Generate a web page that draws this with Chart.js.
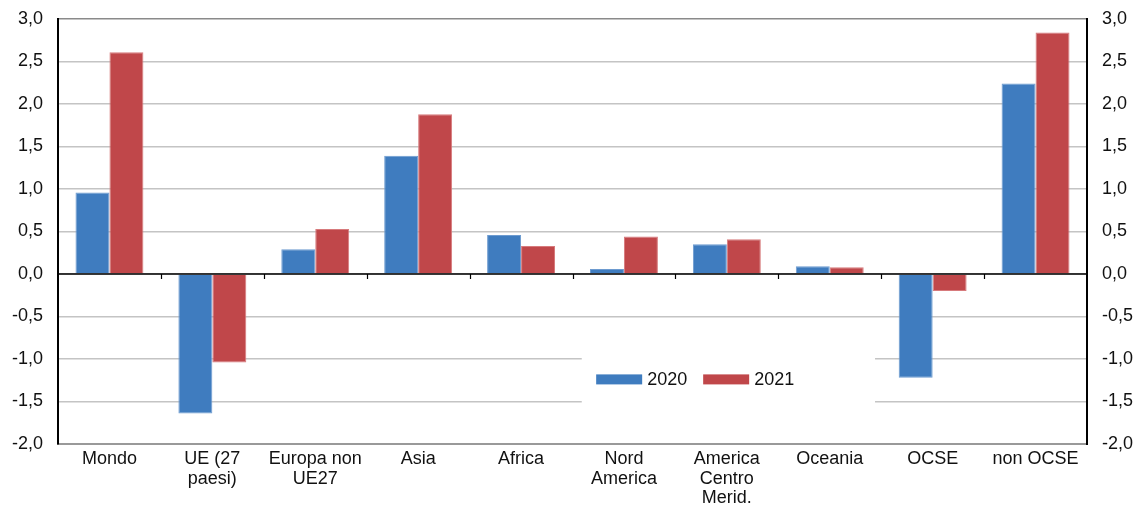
<!DOCTYPE html>
<html><head><meta charset="utf-8">
<script src="https://cdn.jsdelivr.net/npm/chart.js@4"></script>
<style>html,body{margin:0;padding:0;background:#fff;}#wrap{width:1142px;height:506px;position:relative;}</style>
</head><body><div id="wrap"><canvas id="c" width="1142" height="506"></canvas></div>
<script>
const categories = ['Mondo', ['UE (27','paesi)'], ['Europa non','UE27'], 'Asia', 'Africa', ['Nord','America'], ['America','Centro','Merid.'], 'Oceania', 'OCSE', 'non OCSE'];
const series2020 = [0.96, -1.64, 0.29, 1.39, 0.46, 0.06, 0.35, 0.09, -1.22, 2.24];
const series2021 = [2.61, -1.04, 0.53, 1.88, 0.33, 0.44, 0.41, 0.08, -0.20, 2.84];
const seriesNames = ['2020', '2021'];
const yMin = -2.0, yMax = 3.0, yStep = 0.5;

const BLUE = '#3f7cbf', RED = '#c0474a';
const FONT = 'Liberation Sans, Arial, sans-serif';
const fmt = v => v.toFixed(1).replace('.', ',');

const extras = {
  id: 'extras',
  beforeDatasetsDraw(chart) {
    const ctx = chart.ctx, a = chart.chartArea, y = chart.scales.y;
    const bx0 = a.left + (a.right - a.left) * 0.509, bx1 = a.left + (a.right - a.left) * 0.794;
    const by0 = y.getPixelForValue(-0.9), by1 = y.getPixelForValue(-1.58);
    ctx.save();
    ctx.fillStyle = '#fff';
    ctx.fillRect(bx0, by0, bx1 - bx0, by1 - by0);
    ctx.restore();
  },
  afterDatasetsDraw(chart) {
    const ctx = chart.ctx, a = chart.chartArea, y = chart.scales.y;
    const y0 = y.getPixelForValue(0);
    ctx.save();
    ctx.strokeStyle = '#000'; ctx.lineWidth = 1.5;
    ctx.beginPath(); ctx.moveTo(a.left, y0); ctx.lineTo(a.right, y0); ctx.stroke();
    const n = categories.length, w = (a.right - a.left) / n;
    ctx.lineWidth = 1.2;
    for (let i = 1; i < n; i++) {
      const xx = Math.round(a.left + i * w) + 0.5;
      ctx.beginPath(); ctx.moveTo(xx, y0); ctx.lineTo(xx, y0 + 5); ctx.stroke();
    }
    const ly = y.getPixelForValue(-1.24);
    const lx = a.left + (a.right - a.left) * 0.523;
    ctx.font = '18px ' + FONT; ctx.textBaseline = 'middle';
    const sw = 46, sh = 10;
    ctx.fillStyle = BLUE; ctx.fillRect(lx, ly - sh / 2, sw, sh);
    ctx.fillStyle = '#111'; ctx.fillText(seriesNames[0], lx + sw + 5, ly + 1);
    const lx2 = lx + 107;
    ctx.fillStyle = RED; ctx.fillRect(lx2, ly - sh / 2, sw, sh);
    ctx.fillStyle = '#111'; ctx.fillText(seriesNames[1], lx2 + sw + 5, ly + 1);
    ctx.restore();
  }
};

const noPad = s => { s.paddingTop = 0; s.paddingBottom = 0; };

new Chart(document.getElementById('c'), {
  type: 'bar',
  data: {
    labels: categories,
    datasets: [
      { label: seriesNames[0], data: series2020, backgroundColor: BLUE, borderColor: '#6d9bd0', borderWidth: 1, categoryPercentage: 0.66, barPercentage: 1.0, yAxisID: 'y' },
      { label: seriesNames[1], data: series2021, backgroundColor: RED, borderColor: '#d77a7c', borderWidth: 1, categoryPercentage: 0.66, barPercentage: 1.0, yAxisID: 'y' }
    ]
  },
  options: {
    responsive: false, animation: false, devicePixelRatio: 1,
    layout: { padding: { top: 19, bottom: 0, left: 0, right: 0 } },
    plugins: { legend: { display: false }, tooltip: { enabled: false } },
    scales: {
      x: {
        grid: { display: false, drawTicks: false },
        border: { display: true, color: '#999', width: 2 },
        ticks: { color: '#111', font: { family: FONT, size: 18, lineHeight: 1.1 }, padding: 5, maxRotation: 0, autoSkip: false },
        afterFit(s) { s.height = 62; s.paddingLeft = 0; s.paddingRight = 0; }
      },
      y: {
        position: 'left', min: yMin, max: yMax,
        grid: { color: ctx => ctx.tick && ctx.tick.value === yMax ? '#8a8a8a' : (ctx.tick && ctx.tick.value === yMin ? 'rgba(0,0,0,0)' : '#c4c4c4'), lineWidth: 1.5, drawTicks: false },
        border: { display: true, color: '#000', width: 2 },
        ticks: { stepSize: yStep, color: '#111', font: { family: FONT, size: 18 }, padding: 15, callback: v => fmt(v) },
        afterFit(s) { s.width = 58; noPad(s); }
      },
      y2: {
        position: 'right', min: yMin, max: yMax,
        grid: { display: false, drawTicks: false },
        border: { display: true, color: '#000', width: 2 },
        ticks: { stepSize: yStep, color: '#111', font: { family: FONT, size: 18 }, padding: 15, callback: v => fmt(v) },
        afterFit(s) { s.width = 55; noPad(s); }
      }
    }
  },
  plugins: [extras]
});
</script></body></html>
